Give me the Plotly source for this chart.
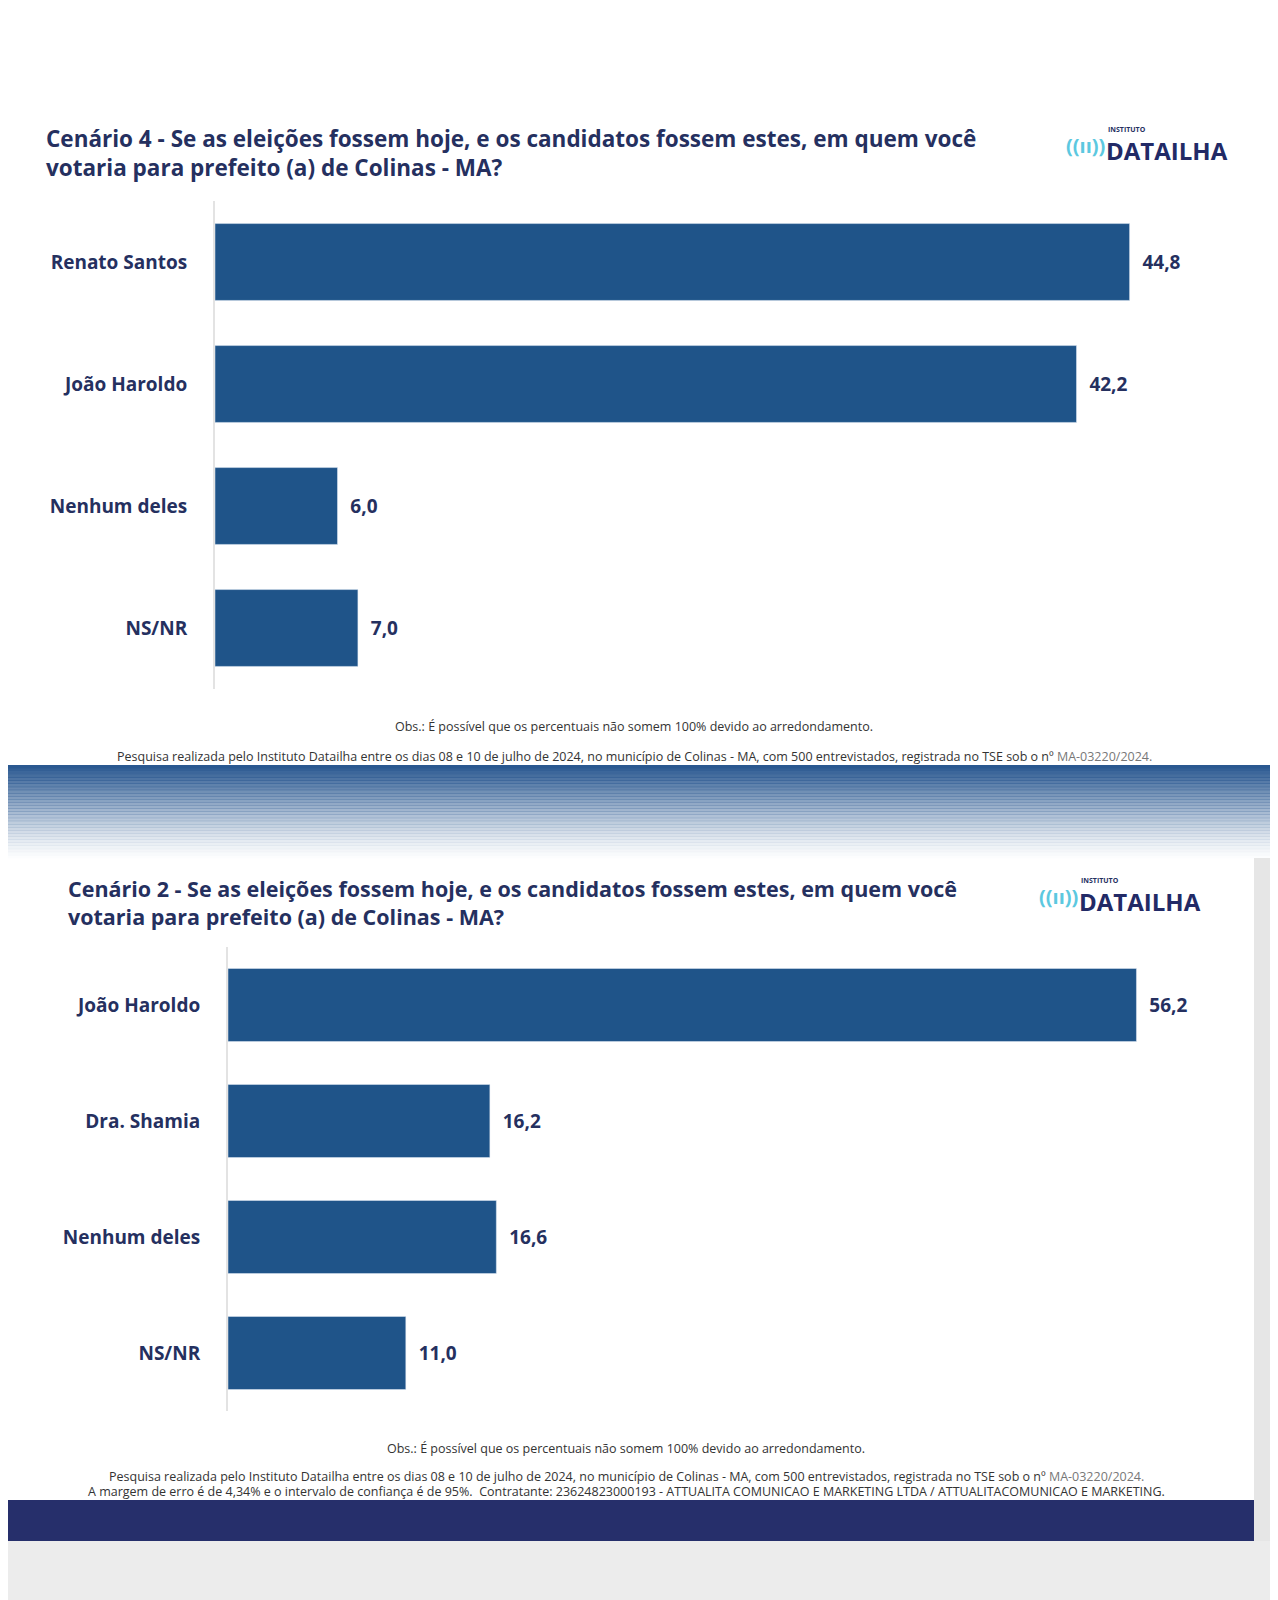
import plotly.graph_objects as go
from plotly.subplots import make_subplots

cats_top = ["Renato Santos", "João Haroldo", "Nenhum deles", "NS/NR"]
vals_top = [44.8, 42.2, 6.0, 7.0]
cats_bot = ["João Haroldo", "Dra. Shamia", "Nenhum deles", "NS/NR"]
vals_bot = [56.2, 16.2, 16.6, 11.0]

W, H = 1278, 1600
BAR = "#1f5489"
NAVY = "#25305f"
FONT = "Open Sans"

def py(p):
    return 1 - p / H

def px(p):
    return p / W

fig = make_subplots(rows=2, cols=1)

for row, cats, vals in [(1, cats_top, vals_top), (2, cats_bot, vals_bot)]:
    fig.add_trace(go.Bar(
        x=vals, y=cats, orientation="h", marker_color=BAR,
        text=["  " + f"{v:.1f}".replace(".", ",") for v in vals], textposition="outside",
        textfont=dict(size=19, color=NAVY, family=FONT, weight="bold"),
        cliponaxis=False, showlegend=False), row=row, col=1)

fig.update_layout(
    width=W, height=H, margin=dict(l=0, r=0, t=0, b=0),
    paper_bgcolor="white", plot_bgcolor="white",
    font=dict(family=FONT, color=NAVY),
    bargap=0.37,
    xaxis=dict(domain=[px(207), px(1240)], range=[0, 50.6], visible=False),
    yaxis=dict(domain=[py(681), py(193)], range=[3.5, -0.5], showline=True,
               linecolor="#e3e3e3", linewidth=2, ticks="", ticklabelstandoff=22,
               tickfont=dict(size=19, color=NAVY, weight="bold")),
    xaxis2=dict(domain=[px(220), px(1240)], range=[0, 63.1], visible=False),
    yaxis2=dict(domain=[py(1403), py(939)], range=[3.5, -0.5], showline=True,
                linecolor="#e3e3e3", linewidth=2, ticks="", ticklabelstandoff=22,
                tickfont=dict(size=19, color=NAVY, weight="bold")),
)

shapes = []
# gradient banner between panels
steps = 30
for i in range(steps):
    y0 = 757 + i * 93 / steps
    y1 = y0 + 93 / steps + 0.5
    op = (1 - i / steps) ** 1.3
    shapes.append(dict(type="rect", xref="paper", yref="paper", x0=0, x1=1,
                       y0=py(y1), y1=py(y0), fillcolor="#2a5890", opacity=op, line_width=0, layer="below"))
shapes.append(dict(type="rect", xref="paper", yref="paper", x0=0, x1=px(1246), y0=py(1533), y1=py(1492),
                   fillcolor="#262f6b", line_width=0))
shapes.append(dict(type="rect", xref="paper", yref="paper", x0=0, x1=1, y0=0, y1=py(1533),
                   fillcolor="#ececec", line_width=0))
shapes.append(dict(type="rect", xref="paper", yref="paper", x0=px(1246), x1=1, y0=py(1533), y1=py(850),
                   fillcolor="#e6e6e6", line_width=0))
fig.update_layout(shapes=shapes)

ann = []
def text(x, y, t, size, color=NAVY, bold=False, anchor="left", fam=FONT):
    ann.append(dict(x=px(x), y=py(y), xref="paper", yref="paper", text=t, showarrow=False,
                    xanchor=anchor, yanchor="middle", align="left",
                    font=dict(size=size, color=color, family=fam, weight="bold" if bold else "normal")))

title = ("Cenário {} - Se as eleições fossem hoje, e os candidatos fossem estes, em quem você<br>"
         "votaria para prefeito (a) de Colinas - MA?")
text(36, 145, title.format(4), 22.5, bold=True)
text(58, 895, title.format(2), 21.5, bold=True)

for lx, ly in [(1056, 137), (1029, 888)]:
    text(lx, ly, "((ıı))", 20, color="#5cc8e0", bold=True)
    text(lx + 42, ly - 16, "INSTITUTO", 7, bold=True)
    text(lx + 40, ly + 5, "DATAILHA", 24, color="#222a66", bold=True)

obs = "Obs.: É possível que os percentuais não somem 100% devido ao arredondamento."
pesq = ("Pesquisa realizada pelo Instituto Datailha entre os dias 08 e 10 de julho de 2024, no município de "
        "Colinas - MA, com 500 entrevistados, registrada no TSE sob o nº <span style='color:#777'>MA-03220/2024.</span>")
text(626, 718, obs, 12.5, color="#333", anchor="center")
text(626, 748, pesq, 12.5, color="#333", anchor="center")
text(618, 1440, obs, 12.5, color="#333", anchor="center")
text(618, 1468, pesq, 12.5, color="#333", anchor="center")
text(618, 1483, "A margem de erro é de 4,34% e o intervalo de confiança é de 95%.  Contratante: 23624823000193 - "
     "ATTUALITA COMUNICAO E MARKETING LTDA / ATTUALITACOMUNICAO E MARKETING.", 12.5, color="#333", anchor="center")
fig.update_layout(annotations=ann)

fig.write_html("out.html")
